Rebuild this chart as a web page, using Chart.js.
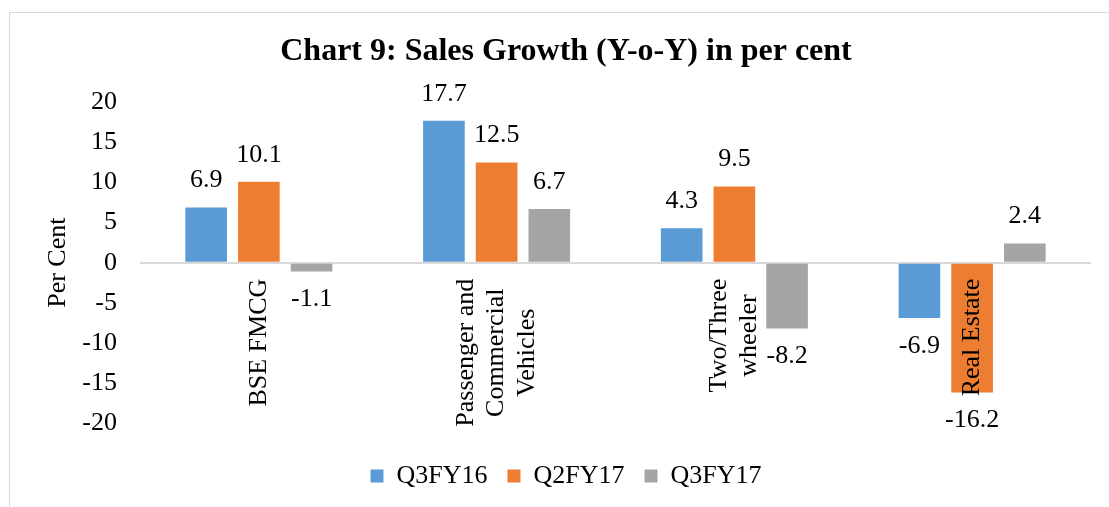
<!DOCTYPE html>
<html>
<head>
<meta charset="utf-8">
<script src="https://cdn.jsdelivr.net/npm/chart.js@4"></script>
<style>
    html, body { margin: 0; padding: 0; background: #fff; overflow: hidden; }
    #frame { position: absolute; left: 9px; top: 12px; width: 1200px; height: 600px; border-left: 1px solid #d9d9d9; border-top: 1px solid #d9d9d9; }
    #wrap { position: absolute; left: 0; top: 0; width: 1132px; height: 507px; }
</style>
</head>
<body>
<div id="frame"></div>
<div id="wrap"><canvas id="salesChart"></canvas></div>
<script>
// Chart data
const categories = [
    ['BSE FMCG'],
    ['Passenger and', 'Commercial', 'Vehicles'],
    ['Two/Three', 'wheeler'],
    ['Real Estate']
];
const seriesNames = ['Q3FY16', 'Q2FY17', 'Q3FY17'];
const q3fy16 = [6.9, 17.7, 4.3, -6.9];
const q2fy17 = [10.1, 12.5, 9.5, -16.2];
const q3fy17 = [-1.1, 6.7, -8.2, 2.4];
const yTicks = [-20, -15, -10, -5, 0, 5, 10, 15, 20];

const colors = ['#5b9bd5', '#ed7d31', '#a5a5a5'];
const FONT = '"Liberation Serif", "Times New Roman", serif';

// value labels + rotated category labels
const barLabels = {
    id: 'barLabels',
    afterDatasetsDraw(chart) {
        const ctx = chart.ctx;
        const xs = chart.scales.x, ys = chart.scales.y;
        const zero = ys.getPixelForValue(0);
        ctx.save();
        ctx.font = '26px ' + FONT;
        ctx.fillStyle = '#000';
        ctx.textAlign = 'center';
        ctx.textBaseline = 'middle';

        chart.data.datasets.forEach((ds, i) => {
            chart.getDatasetMeta(i).data.forEach((bar, j) => {
                const v = ds.data[j];
                const ty = v >= 0 ? bar.y - 27 : bar.y + 28;
                ctx.fillText(v.toFixed(1), bar.x, ty);
            });
        });

        categories.forEach((lines, j) => {
            const cx = xs.getPixelForValue(j);
            const maxW = Math.max(...lines.map(l => ctx.measureText(l).width));
            const cy = zero + 16 + maxW / 2;
            lines.forEach((line, k) => {
                ctx.save();
                ctx.translate(cx + (k - (lines.length - 1) / 2) * 30.5, cy);
                ctx.rotate(-Math.PI / 2);
                ctx.fillText(line, 0, 0);
                ctx.restore();
            });
        });
        ctx.restore();
    }
};

const ctx = document.getElementById('salesChart').getContext('2d');
new Chart(ctx, {
    type: 'bar',
    data: {
        labels: categories.map(c => c.join(' ')),
        datasets: [q3fy16, q2fy17, q3fy17].map((d, i) => ({
            label: seriesNames[i],
            data: d,
            backgroundColor: colors[i],
            borderWidth: 0,
            categoryPercentage: 0.665,
            barPercentage: 0.79
        }))
    },
    options: {
        responsive: true,
        maintainAspectRatio: false,
        animation: false,
        layout: { padding: { bottom: 8 } },
        plugins: {
            title: {
                display: true,
                text: 'Chart 9: Sales Growth (Y-o-Y) in per cent',
                color: '#000',
                font: { family: FONT, size: 32, weight: 'bold', lineHeight: 1.2 },
                padding: { top: 33, bottom: 31 }
            },
            legend: {
                position: 'bottom',
                labels: {
                    color: '#000',
                    font: { family: FONT, size: 26 },
                    boxWidth: 13,
                    boxHeight: 13,
                    padding: 20
                }
            },
            tooltip: { enabled: false }
        },
        scales: {
            x: {
                ticks: { display: false },
                grid: { display: false },
                border: { display: false },
                afterFit: s => { s.height = 20; }
            },
            y: {
                min: -20,
                max: 20,
                afterBuildTicks: s => { s.ticks = yTicks.map(v => ({ value: v })); },
                ticks: {
                    color: '#000',
                    font: { family: FONT, size: 26 },
                    padding: 23
                },
                grid: {
                    drawTicks: false,
                    lineWidth: 2,
                    color: c => c.tick && c.tick.value === 0 ? '#d9d9d9' : 'rgba(0,0,0,0)'
                },
                border: { display: false },
                title: {
                    display: true,
                    text: 'Per Cent',
                    color: '#000',
                    font: { family: FONT, size: 26, lineHeight: 1.2 },
                    padding: { top: 43, bottom: 0 }
                },
                afterFit: s => { s.width = 140; }
            },
            yRight: {
                position: 'right',
                ticks: { display: false },
                grid: { display: false },
                border: { display: false },
                afterFit: s => { s.width = 41; }
            }
        }
    },
    plugins: [barLabels]
});
</script>
</body>
</html>
